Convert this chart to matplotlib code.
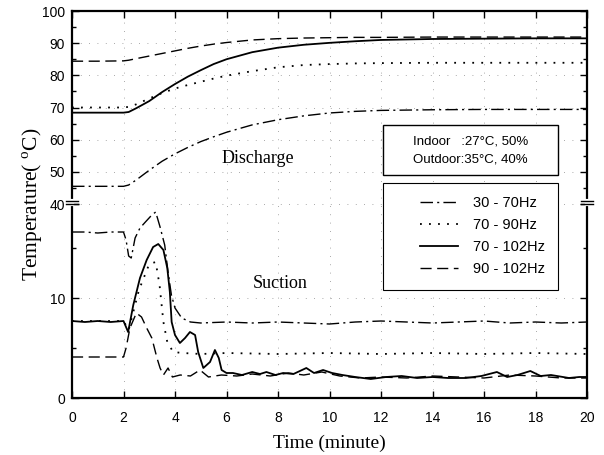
import numpy as np
import matplotlib
matplotlib.use('Agg')
import matplotlib.pyplot as plt
from matplotlib.patches import Rectangle
from matplotlib.transforms import blended_transform_factory

plt.rcParams['mathtext.fontset'] = 'custom'
plt.rcParams['mathtext.rm'] = 'Liberation Serif'

# ---- data ----
labels = ['30 - 70Hz', '70 - 90Hz', '70 - 102Hz', '90 - 102Hz']

# discharge temperatures (upper part)
t_dis = [0, 1, 2, 2.2, 2.5, 3, 3.5, 4, 4.5, 5, 5.5, 6, 7, 8, 9, 10, 11, 12, 14, 16, 18, 20]
dis_30_70 = [45.5, 45.5, 45.5, 45.9, 47.5, 50.5, 53.3, 55.6, 57.6, 59.4, 60.9, 62.3, 64.6, 66.2,
             67.4, 68.3, 68.8, 69.1, 69.3, 69.4, 69.4, 69.4]
dis_70_90 = [70.0, 70.0, 70.0, 70.2, 71.0, 72.8, 74.5, 75.9, 77.0, 78.0, 79.0, 79.9, 81.3, 82.5,
             83.2, 83.5, 83.7, 83.8, 83.9, 83.9, 83.9, 83.9]
dis_70_102 = [68.4, 68.4, 68.4, 68.6, 69.8, 72.0, 74.8, 77.3, 79.6, 81.6, 83.5, 85.0, 87.2, 88.6,
              89.5, 90.1, 90.6, 91.0, 91.3, 91.4, 91.5, 91.5]
dis_90_102 = [84.4, 84.4, 84.5, 84.7, 85.2, 86.0, 86.8, 87.6, 88.4, 89.1, 89.7, 90.2, 91.0, 91.4,
              91.6, 91.7, 91.8, 91.8, 91.9, 91.9, 91.9, 91.9]

# suction temperatures (lower part)
t_suc_30_70 = [0, 0.5, 1, 1.5, 2.0, 2.1, 2.2, 2.3, 2.45, 2.64, 2.85, 3.1, 3.25, 3.42, 3.6, 3.73,
               3.86, 4.0, 4.26, 4.6, 5, 6, 7, 8, 9, 10, 11, 12, 13, 14, 15, 16, 17, 18, 19, 20]
suc_30_70 = [16.6, 16.6, 16.5, 16.6, 16.6, 15.8, 14.2, 14.0, 16.0, 17.0, 17.6, 18.3, 18.6, 17.1,
             15.3, 12.6, 10.3, 9.0, 8.0, 7.6, 7.5, 7.6, 7.5, 7.6, 7.5, 7.4, 7.6, 7.7, 7.6, 7.5,
             7.6, 7.7, 7.5, 7.6, 7.5, 7.6]

t_suc_70_90 = [0, 1, 2.0, 2.2, 2.6, 3.0, 3.25, 3.4, 3.55, 3.7, 3.93, 4.3, 5, 6, 8, 10, 12, 14, 16, 18, 20]
suc_70_90 = [7.7, 7.7, 7.7, 6.8, 10.8, 13.4, 13.6, 11.3, 7.6, 5.6, 4.6, 4.5, 4.4, 4.5, 4.4, 4.5,
             4.4, 4.5, 4.4, 4.5, 4.4]

t_suc_70_102 = [0, 0.5, 1, 1.5, 2.0, 2.18, 2.38, 2.64, 2.9, 3.15, 3.35, 3.55, 3.7, 3.8, 3.87, 4.0,
                4.19, 4.39, 4.58, 4.78, 4.9, 5.1, 5.36, 5.55, 5.7, 5.81, 6.0, 6.25, 6.6, 7.0, 7.3,
                7.55, 7.9, 8.2, 8.6, 9.1, 9.4, 9.75, 10.1, 10.5, 11.0, 11.6, 12.2, 12.8, 13.4, 14.0,
                14.6, 15.3, 15.9, 16.5, 16.9, 17.3, 17.8, 18.2, 18.6, 19.3, 19.7, 20]
suc_70_102 = [7.7, 7.6, 7.7, 7.6, 7.7, 6.6, 9.3, 12.0, 13.8, 15.1, 15.4, 14.8, 13.0, 10.6, 7.6, 6.3,
              5.5, 6.0, 6.6, 6.3, 4.6, 3.0, 3.6, 4.8, 4.0, 2.8, 2.5, 2.5, 2.3, 2.6, 2.4,
              2.6, 2.3, 2.5, 2.4, 3.0, 2.5, 2.8, 2.5, 2.3, 2.1, 1.9, 2.1, 2.2, 2.0, 2.1,
              2.0, 2.0, 2.2, 2.6, 2.1, 2.3, 2.7, 2.2, 2.3, 2.0, 2.1, 2.1]

t_suc_90_102 = [0, 1, 2.0, 2.1, 2.25, 2.5, 2.7, 2.9, 3.1, 3.3, 3.42, 3.55, 3.73, 3.9, 4.2, 4.6, 4.97,
                5.3, 5.8, 6.4, 7.0, 7.7, 8.4, 9.0, 9.7, 10.4, 11.2, 12, 13, 14, 15, 16, 17, 18, 19, 20]
suc_90_102 = [4.1, 4.1, 4.1, 5.0, 7.0, 8.5, 8.1, 7.0, 6.0, 4.0, 3.0, 2.3, 3.0, 2.1, 2.3, 2.2, 2.8,
              2.1, 2.3, 2.2, 2.4, 2.2, 2.5, 2.3, 2.6, 2.2, 2.0, 2.1, 2.0, 2.2, 2.1, 2.0, 2.3, 2.2, 2.0, 2.0]

y_ticks = [0, 10, 40, 50, 60, 70, 80, 90, 100]
y_minor = [5, 15, 45, 55, 65, 75, 85, 95]
x_ticks = [0, 2, 4, 6, 8, 10, 12, 14, 16, 18, 20]

# ---- broken y axis: 0..19.4 at full scale, 40..100 compressed ----
BRK = 19.4
K = 0.3217


def fwd(y):
    y = np.asarray(y, dtype=float)
    return np.where(y <= BRK, y, np.where(y >= 40, BRK + (y - 40) * K, BRK))


def inv(t):
    t = np.asarray(t, dtype=float)
    return np.where(t <= BRK, t, 40 + (t - BRK) / K)


styles = {
    '30 - 70Hz': dict(linestyle=(0, (9, 3, 1.5, 3)), linewidth=1.0),
    '70 - 90Hz': dict(linestyle=(0, (1, 4)), linewidth=1.3),
    '70 - 102Hz': dict(linestyle='-', linewidth=1.3),
    '90 - 102Hz': dict(linestyle=(0, (8, 4)), linewidth=1.0),
}

fig = plt.figure(figsize=(6.04, 4.55), dpi=100)
fig.subplots_adjust(left=72 / 604, right=587 / 604, bottom=1 - 398 / 455, top=1 - 11 / 455)
ax = fig.add_subplot(111)
ax.set_yscale('function', functions=(fwd, inv))

dis = [dis_30_70, dis_70_90, dis_70_102, dis_90_102]
suc_t = [t_suc_30_70, t_suc_70_90, t_suc_70_102, t_suc_90_102]
suc = [suc_30_70, suc_70_90, suc_70_102, suc_90_102]
handles = []
for lab, d, ts, s in zip(labels, dis, suc_t, suc):
    h, = ax.plot(t_dis, d, color='black', label=lab, **styles[lab])
    ax.plot(ts, s, color='black', **styles[lab])
    handles.append(h)

ax.set_xlim(0, 20)
ax.set_ylim(0, 100)
ax.set_xticks(x_ticks)
ax.set_yticks(y_ticks)
ax.set_yticks(y_minor, minor=True)
ax.set_yticklabels([str(v) for v in y_ticks])
ax.tick_params(axis='both', which='both', direction='in', top=True, right=True, labelsize=10)
ax.tick_params(axis='x', pad=9)
ax.tick_params(axis='y', pad=5)
ax.tick_params(which='major', length=5, width=1.0)
ax.tick_params(which='minor', length=3, width=1.0)
for lbl in ax.get_xticklabels() + ax.get_yticklabels():
    lbl.set_family('Liberation Sans')
for sp in ax.spines.values():
    sp.set_linewidth(1.6)

# faint, sparse dotted grid like the scanned original
ax.grid(True, which='major', color='black', linestyle=(0, (1, 9)), linewidth=0.6, alpha=0.45)

# axis break marks at 40
bt = blended_transform_factory(ax.transAxes, ax.transData)
for xs in (0, 1):
    ax.plot([xs, xs], [39.2, 40.8], transform=bt, color='white', linewidth=3, clip_on=False, zorder=5)
    for yy in (39.2, 40.8):
        ax.plot([xs - 0.012, xs + 0.012], [yy, yy], transform=bt, color='black',
                linewidth=1.0, clip_on=False, zorder=6)

ax.set_xlabel('Time (minute)', fontsize=14, family='Liberation Serif', labelpad=7)
ax.set_ylabel('Temperature( $^{\\mathrm{o}}$C)', fontsize=15.5, family='Liberation Serif',
              labelpad=-2)

ax.text(7.2, 54.3, 'Discharge', fontsize=13, family='Liberation Serif', ha='center', va='center')
ax.text(8.1, 11.5, 'Suction', fontsize=13, family='Liberation Serif', ha='center', va='center')

# condition box
ax.add_patch(Rectangle((0.604, 0.576), 0.340, 0.130, transform=ax.transAxes,
                       facecolor='white', edgecolor='black', linewidth=1.0, zorder=4))
ax.text(0.774, 0.662, 'Indoor   :27°C, 50%', transform=ax.transAxes, ha='center', va='center',
        fontsize=9.5, family='Liberation Sans', zorder=5)
ax.text(0.774, 0.617, 'Outdoor:35°C, 40%', transform=ax.transAxes, ha='center', va='center',
        fontsize=9.5, family='Liberation Sans', zorder=5)

# legend box
ax.add_patch(Rectangle((0.604, 0.279), 0.340, 0.277, transform=ax.transAxes,
                       facecolor='white', edgecolor='black', linewidth=0.8, zorder=4))
leg = ax.legend(handles=handles, loc='upper left', bbox_to_anchor=(0.676, 0.522),
                frameon=False, handlelength=2.6, handletextpad=1.0,
                labelspacing=0.55, borderpad=0.0, borderaxespad=0.0,
                prop={'family': 'Liberation Sans', 'size': 10.5})
leg.set_zorder(6)

fig.savefig('out.png', dpi=100)
